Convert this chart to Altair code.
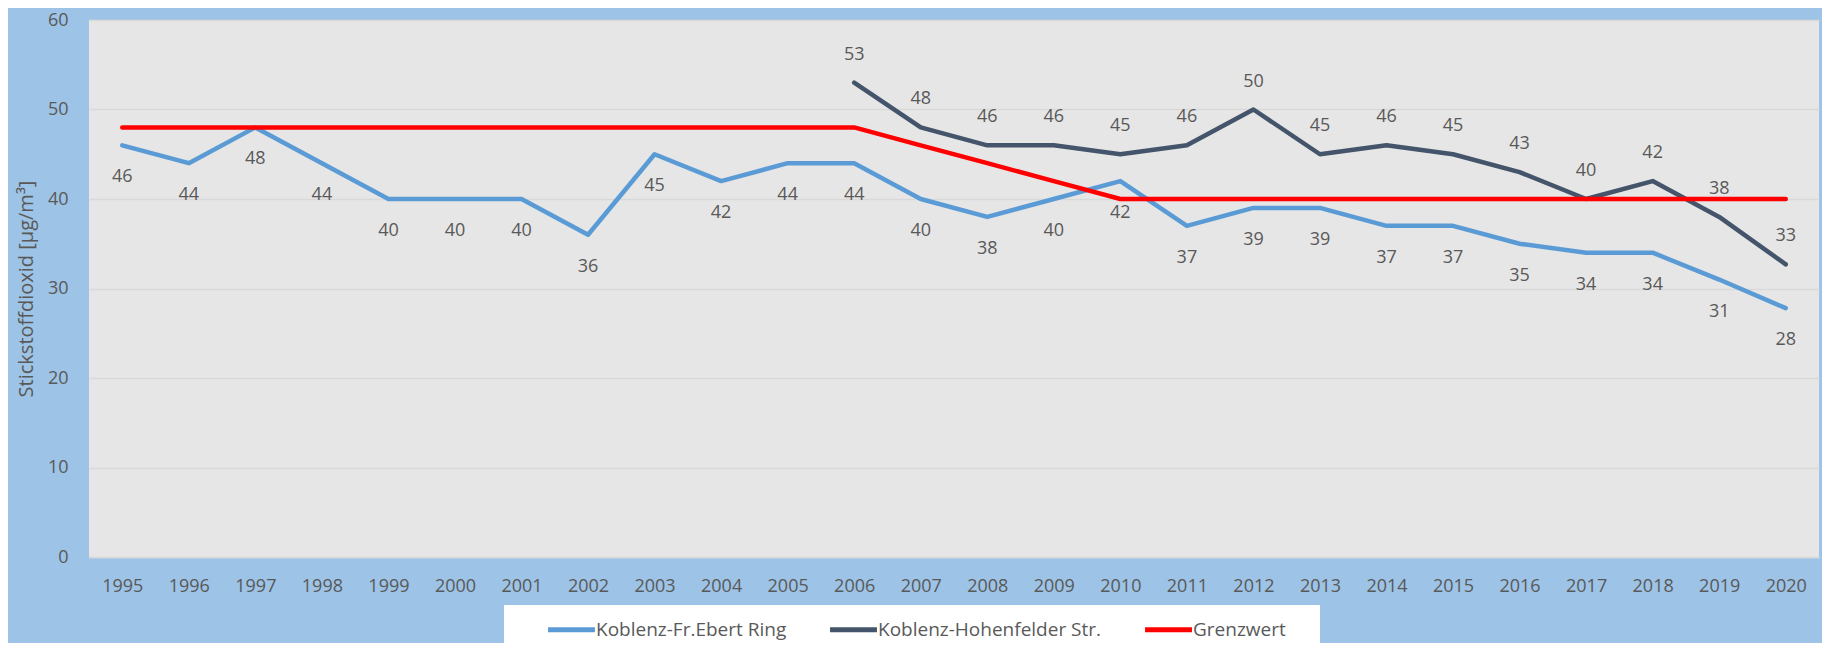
import altair as alt
import pandas as pd

years = list(range(1995, 2021))
ebert = [46, 44, 48, 44, 40, 40, 40, 36, 45, 42, 44, 44, 40, 38, 40, 42, 37, 39, 39, 37, 37, 35, 34, 34, 31, 27.8]
hohen_years = list(range(2006, 2021))
hohen = [53, 48, 46, 46, 45, 46, 50, 45, 46, 45, 43, 40, 42, 38, 32.7]
grenz = [48, 48, 48, 48, 48, 48, 48, 48, 48, 48, 48, 48, 46, 44, 42, 40, 40, 40, 40, 40, 40, 40, 40, 40, 40, 40]

S1 = "Koblenz-Fr.Ebert Ring"
S2 = "Koblenz-Hohenfelder Str."
S3 = "Grenzwert"

df1 = pd.DataFrame({"year": years, "value": ebert, "series": S1})
df2 = pd.DataFrame({"year": hohen_years, "value": hohen, "series": S2})
df3 = pd.DataFrame({"year": years, "value": grenz, "series": S3})

TXT = "#595959"
FONT = "Open Sans"

x = alt.X("year:Q", scale=alt.Scale(domain=[1994.5, 2020.5], nice=False, zero=False),
          axis=alt.Axis(values=years, format="d", title=None, grid=False, ticks=False,
                        domain=True, domainColor="#D9D9D9", domainWidth=1.5,
                        labelPadding=20, labelFontSize=18, labelColor=TXT, labelFont=FONT))
y = alt.Y("value:Q", scale=alt.Scale(domain=[0, 60], nice=False),
          axis=alt.Axis(values=[0, 10, 20, 30, 40, 50, 60], title="Stickstoffdioxid [µg/m³]",
                        grid=True, gridColor="#D9D9D9", gridWidth=1.5, ticks=False, domain=False,
                        labelPadding=21, labelFontSize=18, labelColor=TXT, labelFont=FONT,
                        titleFontSize=20, titleColor=TXT, titleFont=FONT, titleFontWeight="normal",
                        titlePadding=11, titleLimit=600))

color = alt.Color("series:N",
                  scale=alt.Scale(domain=[S1, S2, S3], range=["#5B9BD5", "#44546A", "#FF0000"]),
                  legend=alt.Legend(title=" ", titleOrient="right", titlePadding=24, titleFontSize=8,
                                    orient="none", legendX=415, legendY=585,
                                    direction="horizontal", columns=3, columnPadding=9,
                                    fillColor="white", padding=10, symbolType="M-2,0L2,0",
                                    symbolSize=550, symbolStrokeWidth=5, labelOffset=10,
                                    labelFontSize=19, labelColor=TXT, labelFont=FONT,
                                    labelLimit=400, symbolOffset=43))

def line(df):
    return alt.Chart(df).mark_line(strokeWidth=4.5, strokeCap="round", strokeJoin="round").encode(
        x=x, y=y, color=color)

t1 = alt.Chart(df1).mark_text(dy=32, fontSize=18, color=TXT, font=FONT).encode(
    x=x, y=y, text=alt.Text("value:Q", format=".0f"))
t2 = alt.Chart(df2).mark_text(dy=-28, fontSize=18, color=TXT, font=FONT).encode(
    x=x, y=y, text=alt.Text("value:Q", format=".0f"))

chart = alt.layer(line(df1), line(df2), line(df3), t1, t2).properties(
    width=1730, height=537,
    autosize=alt.AutoSizeParams(type="none"),
    padding={"left": 81, "top": 12, "right": 3, "bottom": 86},
    background="#9DC3E6",
).configure_view(fill="#E7E6E6", stroke=None).configure_axisY(
    titleFontSize=20, titleColor=TXT, titleFont=FONT, titleFontWeight="normal")

chart.save("out.html", embed_options={"renderer": "svg", "actions": False})
